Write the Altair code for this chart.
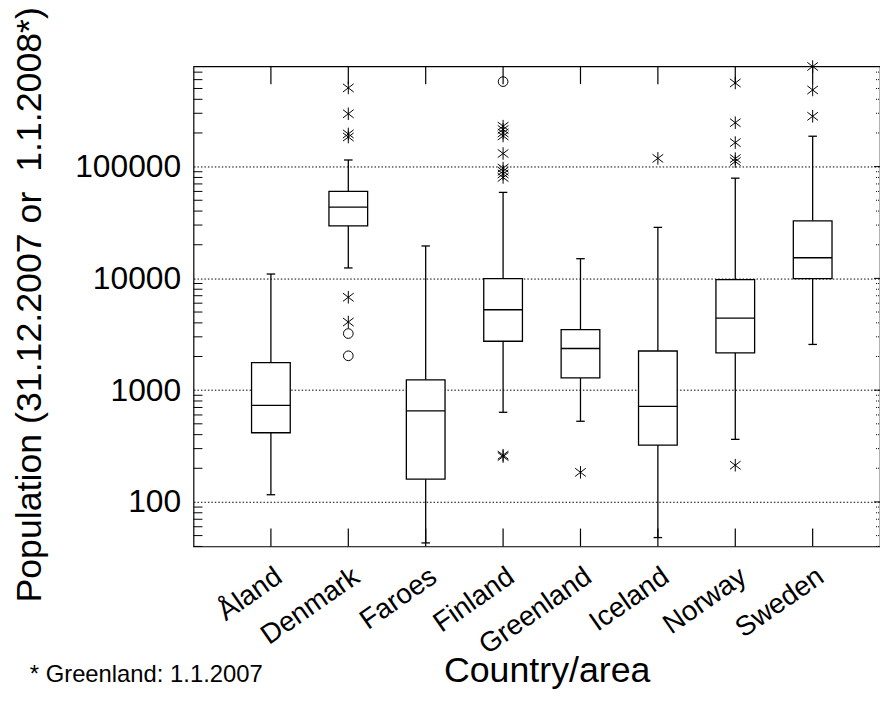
import json
import altair as alt
import pandas as pd

# ---------------- data ----------------
categories = ["Åland", "Denmark", "Faroes", "Finland", "Greenland", "Iceland", "Norway", "Sweden"]
whisker_low = [116, 12400, 43, 634, 527, 48, 363, 2565]
q1 = [416, 29500, 160, 2740, 1288, 323, 2160, 9940]
median = [731, 43500, 652, 5240, 2360, 717, 4420, 15300]
q3 = [1762, 60000, 1237, 9940, 3480, 2240, 9730, 32700]
whisker_high = [10940, 114600, 19500, 58800, 15000, 28600, 78800, 187000]

star_country = ["Denmark", "Denmark", "Denmark", "Denmark", "Denmark", "Denmark",
                "Finland", "Finland", "Finland", "Finland", "Finland", "Finland",
                "Finland", "Finland", "Finland", "Finland", "Finland",
                "Greenland", "Iceland",
                "Norway", "Norway", "Norway", "Norway", "Norway", "Norway",
                "Sweden", "Sweden", "Sweden"]
star_value = [506000, 297000, 196000, 184000, 6780, 4070,
              230000, 215000, 200000, 188000, 131000, 97000,
              91000, 86000, 80000, 262, 255,
              184, 118500,
              560000, 247000, 164000, 118000, 111000, 213,
              787000, 485000, 282000]
circle_country = ["Denmark", "Denmark", "Finland"]
circle_value = [3210, 2030, 576000]

y_ticks = [100, 1000, 10000, 100000]
y_title = "Population (31.12.2007 or\u00a0 1.1.2008*)"
x_title = "Country/area"
footnote = "* Greenland: 1.1.2007"

# ---------------- tables ----------------
idx = list(range(1, len(categories) + 1))
boxes = pd.DataFrame({"idx": idx, "lo": whisker_low, "q1": q1, "med": median,
                      "q3": q3, "hi": whisker_high})
pos = {c: i + 1 for i, c in enumerate(categories)}
stars = pd.DataFrame({"idx": [pos[c] for c in star_country], "v": star_value})
circles = pd.DataFrame({"idx": [pos[c] for c in circle_country], "v": circle_value})
minor = pd.DataFrame({"v": [k * 10 ** e for e in range(1, 6) for k in range(2, 10)
                            if 40 <= k * 10 ** e <= 790000]})
major = pd.DataFrame({"v": y_ticks})
cats = pd.DataFrame({"idx": idx})

W, H = 692, 484

xscale = alt.Scale(domain=[0, 8.87], nice=False, zero=False)
yscale = alt.Scale(type="log", domain=[40, 790000], nice=False)

label_expr = json.dumps(categories) + "[datum.value - 1]"
xaxis = alt.Axis(values=idx, labelExpr=label_expr, labelAngle=325, labelAlign="right",
                 labelBaseline="top", labelFontSize=28, labelPadding=16, ticks=False,
                 domain=False, grid=False, labelOverlap=False, labelFlush=False,
                 labelBound=False, title=x_title, titleFontSize=36, titleFontWeight="normal",
                 titleX=356, titleY=136, titleBaseline="alphabetic", titleAlign="center",
                 labelColor="black", titleColor="black")
yaxis = alt.Axis(values=y_ticks, format="d", labelFontSize=32, labelPadding=13, ticks=False,
                 domain=False, grid=True, gridDash=[1.5, 2], gridColor="black", gridWidth=1,
                 labelOverlap=False, labelFlush=False, title=y_title, titleFontSize=36,
                 titleFontWeight="normal", titleX=-154, titleY=H / 2 - 2, titleAngle=270,
                 titleBaseline="alphabetic", titleAlign="center",
                 labelColor="black", titleColor="black")


def X(field):
    return alt.X(field, type="quantitative", scale=xscale, axis=xaxis)


def Y(field):
    return alt.Y(field, type="quantitative", scale=yscale, axis=yaxis)


STAR = "M0,-1L0,1M-0.85,-0.65L0.85,0.65M-0.85,0.65L0.85,-0.65"

base_box = alt.Chart(boxes)

box = base_box.mark_rect(fill="white", stroke="black", strokeWidth=1.3).transform_calculate(
    x0="datum.idx - 0.25", x1="datum.idx + 0.25").encode(
    x=X("x0"), x2="x1", y=Y("q1"), y2="q3")

whisk_lo = base_box.mark_rule(color="black", strokeWidth=1.3).encode(x=X("idx"), y=Y("lo"), y2="q1")
whisk_hi = base_box.mark_rule(color="black", strokeWidth=1.3).encode(x=X("idx"), y=Y("q3"), y2="hi")

cap_lo = base_box.mark_rule(color="black", strokeWidth=1.3).transform_calculate(
    x0="datum.idx - 0.055", x1="datum.idx + 0.055").encode(x=X("x0"), x2="x1", y=Y("lo"))
cap_hi = base_box.mark_rule(color="black", strokeWidth=1.3).transform_calculate(
    x0="datum.idx - 0.055", x1="datum.idx + 0.055").encode(x=X("x0"), x2="x1", y=Y("hi"))

med = base_box.mark_rule(color="black", strokeWidth=1.3).transform_calculate(
    x0="datum.idx - 0.25", x1="datum.idx + 0.25").encode(x=X("x0"), x2="x1", y=Y("med"))

star_layer = alt.Chart(stars).mark_point(shape=STAR, size=160, filled=False, stroke="black",
                                         strokeWidth=1, opacity=1).encode(x=X("idx"), y=Y("v"))
circle_layer = alt.Chart(circles).mark_point(shape="circle", size=95, filled=False,
                                             stroke="black", strokeWidth=1, opacity=1).encode(
    x=X("idx"), y=Y("v"))

left_minor = alt.Chart(minor).mark_rule(color="black", strokeWidth=1).encode(
    y=Y("v"), x=alt.value(0), x2=alt.value(9))
right_minor = alt.Chart(minor).mark_rule(color="black", strokeWidth=1, strokeDash=[1, 1]).encode(
    y=Y("v"), x=alt.value(W - 4), x2=alt.value(W))
right_major = alt.Chart(major).mark_rule(color="black", strokeWidth=1).encode(
    y=Y("v"), x=alt.value(W - 6), x2=alt.value(W))
top_ticks = alt.Chart(cats).mark_rule(color="black", strokeWidth=1.2).encode(
    x=X("idx"), y=alt.value(0), y2=alt.value(18))
bottom_ticks = alt.Chart(cats).mark_rule(color="black", strokeWidth=1.2).encode(
    x=X("idx"), y=alt.value(H - 18), y2=alt.value(H))

note = alt.Chart(pd.DataFrame({"t": [footnote]})).mark_text(
    align="left", baseline="alphabetic", fontSize=24, color="black", font="Liberation Sans").encode(
    text="t:N", x=alt.value(30 - 195), y=alt.value(685 - 64))

chart = alt.layer(
    left_minor, right_minor, right_major, top_ticks, bottom_ticks,
    whisk_lo, whisk_hi, cap_lo, cap_hi, box, med, star_layer, circle_layer, note
).properties(
    width=W, height=H,
    autosize=alt.AutoSizeParams(type="none"),
    padding={"left": 187, "top": 56, "right": 0, "bottom": 144},
    background="white",
).configure(font="Liberation Sans").configure_view(stroke="black", strokeWidth=1.2)

chart.save("out.html", embed_options={"renderer": "svg", "actions": False})
